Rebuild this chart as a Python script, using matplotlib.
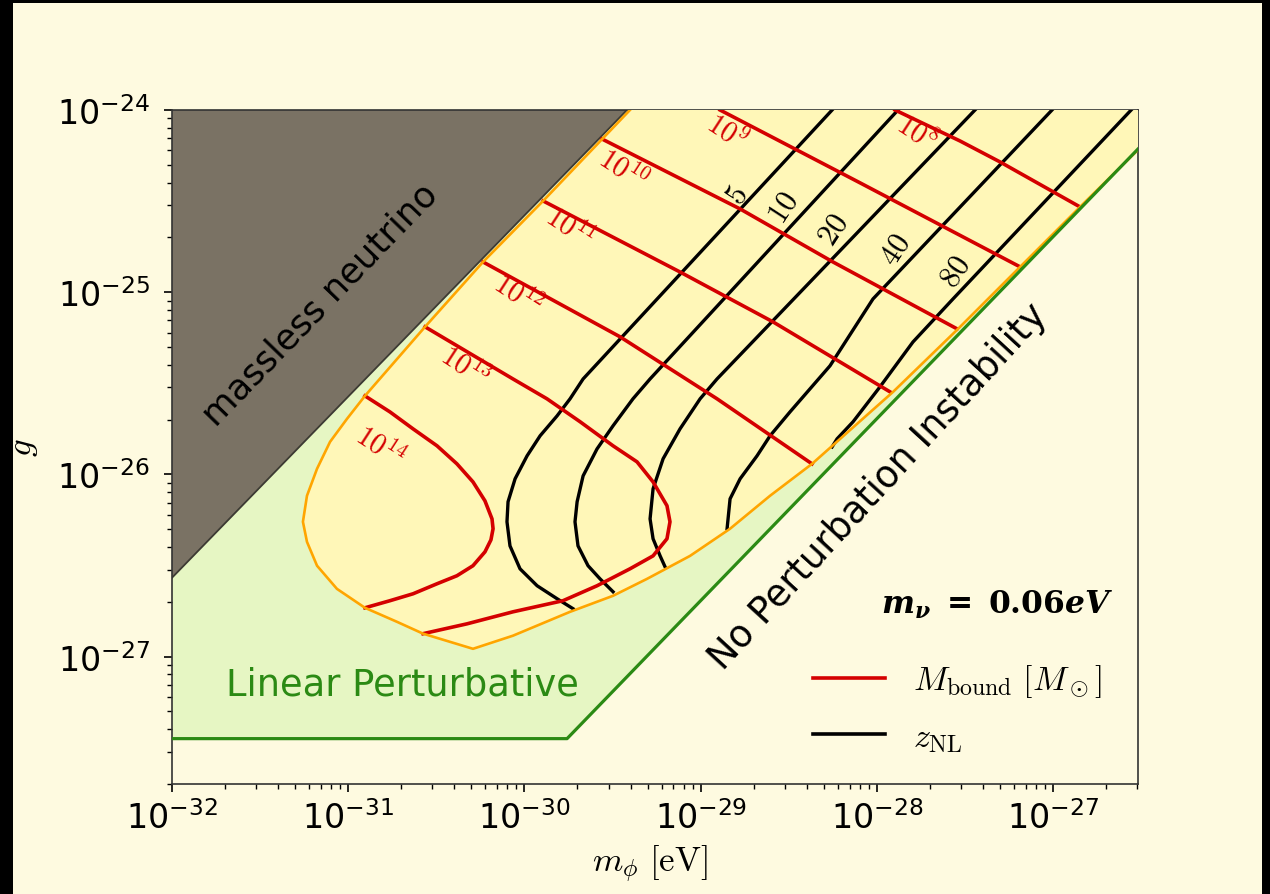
import numpy as np
import matplotlib
matplotlib.use("Agg")
from matplotlib import pyplot as plt
from matplotlib.patches import Rectangle
from matplotlib.lines import Line2D

# all curves, stored as log10(m_phi / eV) and log10(g)
massless_m = [-32.0, -29.418]
massless_g = [-26.567, -24.0]

linear_m = [-32.0, -29.758, -26.518]
linear_g = [-27.45, -27.45, -24.214]

nonlin_m = [-29.401, -29.894, -30.235, -30.564, -30.905, -31.007, -31.103, -31.177,
            -31.234, -31.257, -31.234, -31.177, -31.064, -30.905, -30.723, -30.575,
            -30.292, -30.065, -29.741, -29.497, -29.304, -29.060, -28.833, -28.606,
            -28.368, -27.908, -27.539, -27.187, -26.847, -26.518]
nonlin_g = [-24.0, -24.499, -24.834, -25.190, -25.569, -25.695, -25.821, -25.969,
            -26.117, -26.260, -26.370, -26.501, -26.628, -26.732, -26.809, -26.874,
            -26.957, -26.885, -26.754, -26.666, -26.573, -26.447, -26.298, -26.117,
            -25.942, -25.547, -25.201, -24.861, -24.532, -24.219]

# M_bound contours
mb8_m = [-27.897, -27.528, -27.301, -26.847]
mb8_g = [-24.0, -24.170, -24.285, -24.532]
mb9_m = [-28.890, -28.095, -27.187]
mb9_g = [-24.0, -24.400, -24.861]
mb10_m = [-29.560, -28.776, -28.249, -27.545]
mb10_g = [-24.159, -24.543, -24.834, -25.201]
mb11_m = [-29.894, -29.117, -28.589, -27.925]
mb11_g = [-24.499, -24.889, -25.163, -25.547]
mb12_m = [-30.235, -29.457, -28.907, -28.368]
mb12_g = [-24.834, -25.245, -25.585, -25.942]
mb13_m = [-30.564, -30.065, -29.872, -29.684, -29.497, -29.361, -29.270, -29.191, -29.174,
          -29.191, -29.270, -29.401, -29.588, -29.781, -30.065, -30.326, -30.575]
mb13_g = [-25.190, -25.476, -25.585, -25.711, -25.843, -25.931, -26.041, -26.172, -26.260,
          -26.353, -26.447, -26.518, -26.611, -26.693, -26.754, -26.820, -26.874]
mb14_m = [-30.905, -30.763, -30.632, -30.496, -30.383, -30.292, -30.224, -30.184, -30.178,
          -30.190, -30.224, -30.292, -30.383, -30.496, -30.632, -30.763, -30.905]
mb14_g = [-25.569, -25.657, -25.750, -25.843, -25.942, -26.041, -26.145, -26.244, -26.298,
          -26.359, -26.425, -26.501, -26.556, -26.600, -26.655, -26.693, -26.732]

# z_NL contours
z5_m = [-28.254, -29.667, -29.741, -29.815, -29.911, -29.985, -30.053, -30.093, -30.099,
        -30.082, -30.025, -29.928, -29.815, -29.724]
z5_g = [-24.0, -25.476, -25.585, -25.679, -25.788, -25.898, -26.024, -26.150, -26.260,
        -26.392, -26.518, -26.611, -26.682, -26.737]
z10_m = [-27.880, -29.287, -29.384, -29.497, -29.588, -29.667, -29.701, -29.713, -29.696,
         -29.639, -29.571, -29.497]
z10_g = [-24.0, -25.476, -25.585, -25.733, -25.860, -26.008, -26.150, -26.260, -26.392,
         -26.501, -26.573, -26.644]
z20_m = [-27.443, -28.907, -29.003, -29.117, -29.213, -29.270, -29.287, -29.270, -29.230, -29.202]
z20_g = [-24.0, -25.476, -25.585, -25.750, -25.914, -26.079, -26.244, -26.353, -26.447, -26.507]
z40_m = [-27.006, -28.022, -28.266, -28.493, -28.606, -28.680, -28.776, -28.833, -28.850]
z40_g = [-24.0, -25.037, -25.404, -25.657, -25.788, -25.898, -26.024, -26.134, -26.298]
z80_m = [-26.557, -27.568, -27.795, -27.982, -28.135, -28.226, -28.254]
z80_g = [-24.0, -25.037, -25.273, -25.519, -25.711, -25.805, -25.849]

mb_labels = [r"$10^{8}$", r"$10^{9}$", r"$10^{10}$", r"$10^{11}$",
             r"$10^{12}$", r"$10^{13}$", r"$10^{14}$"]
mb_label_m = [-27.772, -28.850, -29.440, -29.741, -30.036, -30.337, -30.820]
mb_label_g = [-24.121, -24.115, -24.324, -24.642, -25.009, -25.404, -25.843]

z_labels = ["5", "10", "20", "40", "80"]
z_label_m = [-28.793, -28.532, -28.249, -27.897, -27.556]
z_label_g = [-24.461, -24.532, -24.653, -24.762, -24.883]

xlim = (1e-32, 10 ** -26.518)
ylim = (2e-28, 1e-24)

cream = "#fefae0"
red = "#d40000"
green = "#2b8a14"

fig = plt.figure(figsize=(12.7, 8.95), dpi=100)
fig.patch.set_facecolor("black")
fig.add_artist(Rectangle((13 / 1270, 0), 1249 / 1270, 1 - 4 / 895,
                         transform=fig.transFigure, facecolor=cream,
                         edgecolor="none", zorder=-5))
ax = fig.add_axes([172 / 1270, 1 - 785 / 895, 966 / 1270, 674 / 895])
ax.set_facecolor(cream)
ax.set_xscale("log")
ax.set_yscale("log")

p = lambda a: 10 ** np.asarray(a)

# linear perturbative region
ax.fill(np.append(p(linear_m), [xlim[1], xlim[0]]),
        np.append(p(linear_g), [ylim[1], ylim[1]]),
        color="#e6f6c3", lw=0, zorder=1)
ax.plot(p(linear_m), p(linear_g), color=green, lw=2.3, zorder=6)

# massless neutrino region
ax.fill(np.append(p(massless_m), xlim[0]), np.append(p(massless_g), ylim[1]),
        color="#7a7264", lw=0, zorder=2)
ax.plot(p(massless_m), p(massless_g), color="#3c3a33", lw=1.3, zorder=2)

# non-linear region
ax.fill(np.append(p(nonlin_m), xlim[1]), np.append(p(nonlin_g), ylim[1]),
        color="#fff7b8", lw=0, zorder=3)
ax.plot(p(nonlin_m), p(nonlin_g), color="orange", lw=1.9, zorder=5)

for cm, cg in [(z5_m, z5_g), (z10_m, z10_g), (z20_m, z20_g), (z40_m, z40_g), (z80_m, z80_g)]:
    ax.plot(p(cm), p(cg), color="black", lw=2.4, zorder=4, solid_joinstyle="round")
for cm, cg in [(mb8_m, mb8_g), (mb9_m, mb9_g), (mb10_m, mb10_g), (mb11_m, mb11_g),
               (mb12_m, mb12_g), (mb13_m, mb13_g), (mb14_m, mb14_g)]:
    ax.plot(p(cm), p(cg), color=red, lw=2.6, zorder=4, solid_joinstyle="round")

for lab, lm, lg in zip(mb_labels, mb_label_m, mb_label_g):
    ax.text(10 ** lm, 10 ** lg, lab, color=red, fontsize=21, rotation=-33,
            ha="center", va="center", math_fontfamily="cm", zorder=7)
for lab, lm, lg in zip(z_labels, z_label_m, z_label_g):
    ax.text(10 ** lm, 10 ** lg, "$" + lab + "$", color="black", fontsize=22, rotation=57,
            ha="center", va="center", math_fontfamily="cm", zorder=7)

ax.text(0.153, 0.713, "massless neutrino", transform=ax.transAxes, fontsize=25.5,
        rotation=46, ha="center", va="center", rotation_mode="anchor", zorder=7)
ax.text(0.239, 0.148, "Linear Perturbative", transform=ax.transAxes, fontsize=26.5,
        color=green, ha="center", va="center", zorder=7)
ax.text(0.731, 0.442, "No Perturbation Instability", transform=ax.transAxes, fontsize=26.5,
        rotation=47.5, ha="center", va="center", rotation_mode="anchor", zorder=7)
ax.text(0.854, 0.267, r"$\mathbfit{m}_{\mathbfit{\nu}}\mathbf{\ =\ 0.06}\mathbfit{eV}$",
        transform=ax.transAxes, fontsize=22.5, ha="center", va="center",
        math_fontfamily="dejavuserif", zorder=7)

handles = [Line2D([], [], color=red, lw=2.6), Line2D([], [], color="black", lw=2.6)]
leg = ax.legend(handles, [r"$M_{\rm bound}\ [M_\odot]$", r"$z_{\rm NL}$"],
                loc="lower right", bbox_to_anchor=(0.963, 0.045), frameon=False,
                fontsize=24.5, handlelength=2.1, handletextpad=0.85, labelspacing=0.6,
                borderaxespad=0, borderpad=0)
for t in leg.get_texts():
    t.set_math_fontfamily("cm")

ax.set_xlim(xlim)
ax.set_ylim(ylim)
ax.set_xticks([1e-32, 1e-31, 1e-30, 1e-29, 1e-28, 1e-27])
ax.set_yticks([1e-27, 1e-26, 1e-25, 1e-24])
ax.tick_params(which="major", length=6, width=1.2, labelsize=24)
ax.tick_params(which="minor", length=3.5, width=1.0)
ax.tick_params(axis="x", pad=6)
ax.tick_params(axis="y", pad=10)
for s in ax.spines.values():
    s.set_color("#333333")
    s.set_linewidth(1.2)

ax.set_xlabel(r"$m_\phi\ [\rm eV]$", fontsize=25, math_fontfamily="cm")
ax.set_ylabel(r"$g$", fontsize=25, math_fontfamily="cm")
ax.xaxis.set_label_coords(0.495, -0.088)
ax.yaxis.set_label_coords(-0.137, 0.5)

fig.savefig("out.png", dpi=100, facecolor=fig.get_facecolor())
